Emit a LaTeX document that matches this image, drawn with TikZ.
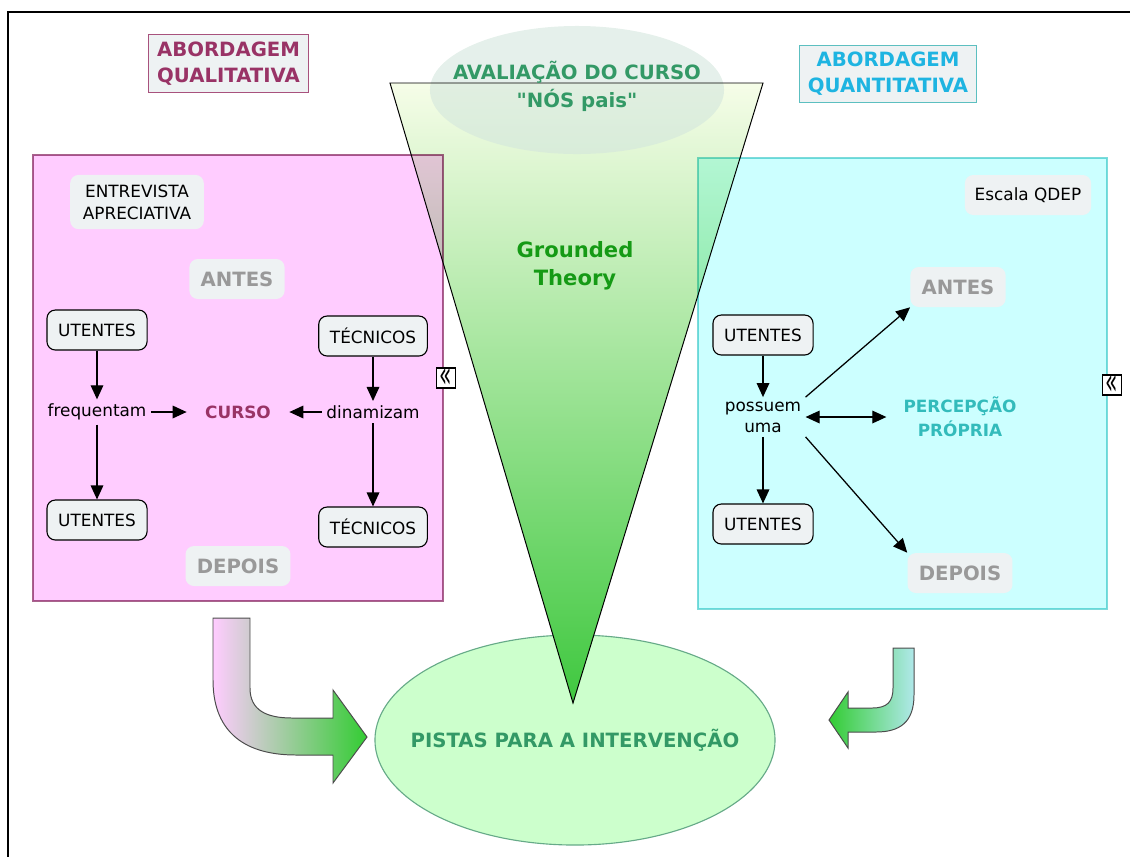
\documentclass[tikz,border=0pt]{standalone}
\usepackage{fontspec}
\setmainfont{DejaVu Sans}[Ligatures=TeXOff]
\usetikzlibrary{arrows.meta,shapes.geometric}

\definecolor{pinkfill}{HTML}{FFCCFF}
\definecolor{pinkline}{HTML}{A8648C}
\definecolor{cyanfill}{HTML}{CCFFFF}
\definecolor{cyanline}{HTML}{7FDADA}
\definecolor{qualtext}{HTML}{993366}
\definecolor{quanttext}{HTML}{1EB4E1}
\definecolor{quantline}{HTML}{5CBFC0}
\definecolor{boxfill}{HTML}{EEF2F3}
\definecolor{graytext}{HTML}{999999}
\definecolor{evaltext}{HTML}{339966}
\definecolor{theorytext}{HTML}{159A15}
\definecolor{percetext}{HTML}{33BBBB}
\definecolor{ovalfill}{HTML}{CCFFCC}
\definecolor{ovalline}{HTML}{66AA88}
\definecolor{topfill}{HTML}{D3E6DD}
\definecolor{funneltop}{HTML}{F6FDE8}
\definecolor{funnelbot}{HTML}{3FC83F}
\definecolor{arrowgreen}{HTML}{33CC33}
\definecolor{arrowcyan}{HTML}{B0E8EA}

\tikzset{
  concept/.style={draw=black, line width=0.8pt, fill=boxfill, rounded corners=6pt,
    inner xsep=8pt, minimum height=1cm, font=\fontsize{12}{14}\selectfont},
  phase/.style={fill=boxfill, rounded corners=6pt, inner xsep=8pt, minimum height=1cm,
    text=graytext, font=\fontsize{14}{17}\selectfont\bfseries},
  linkword/.style={inner sep=3pt, align=center, font=\fontsize{12}{15}\selectfont},
  heading/.style={fill=boxfill, line width=0.8pt, inner xsep=6pt, inner ysep=5pt,
    align=center, font=\fontsize{14}{18.5}\selectfont\bfseries},
  note/.style={fill=boxfill, rounded corners=6pt, inner xsep=9pt, inner ysep=7pt,
    align=center, font=\fontsize{12}{15.5}\selectfont},
  link/.style={-{Triangle[width=9pt,length=10pt]}, line width=0.9pt},
  twoway/.style={{Triangle[width=9pt,length=10pt]}-{Triangle[width=9pt,length=10pt]}, line width=0.9pt},
  collapse/.style={draw, line width=0.8pt, fill=white, minimum width=0.47cm,
    minimum height=0.5cm, inner sep=0pt, font=\fontsize{12}{12}\selectfont},
  bigarrow/.style={draw=black!70, line width=0.7pt}
}

\begin{document}
\begin{tikzpicture}[x=0.025cm, y=-0.025cm]
  \useasboundingbox (0,0) rectangle (1130,857);

  % Frame
  \draw[line width=1.3pt] (1130,12) -- (8,12) -- (8,857);

  % Result oval
  \node[ellipse, draw=ovalline, line width=0.8pt, fill=ovalfill, inner sep=0pt,
    minimum width=10cm, minimum height=5.25cm,
    label={[text=evaltext, font=\fontsize{14}{17}\selectfont\bfseries]center:PISTAS PARA A INTERVENÇÃO}]
    (pistas) at (575,740) {};

  % Funnel
  \coordinate (ftl) at (390,83);
  \coordinate (ftr) at (763,83);
  \coordinate (fbot) at (573,703);
  \shade[top color=funneltop, bottom color=funnelbot] (ftl) -- (ftr) -- (fbot) -- cycle;

  \node[ellipse, fill=topfill, fill opacity=0.6, inner sep=0pt,
    minimum width=7.35cm, minimum height=3.2cm] (avaliacao) at (577,90) {};

  \draw[line width=0.7pt] (ftl) -- (ftr) -- (fbot) -- cycle;

  \node[text=evaltext, align=center, font=\fontsize{14}{20}\selectfont\bfseries]
    (avaliacaotxt) at (577,86) {AVALIAÇÃO DO CURSO\\"NÓS pais"};

  \node[text=theorytext, align=center, font=\fontsize{15}{20}\selectfont\bfseries]
    (theory) at (575,266) {Grounded\\Theory};

  % Panels
  \begin{scope}[blend mode=multiply]
    \path[fill=pinkfill, draw=pinkline, line width=0.8pt] (33,155) rectangle (443,601);
    \path[fill=cyanfill, draw=cyanline, line width=0.8pt] (698,158) rectangle (1107,609);
  \end{scope}

  % Titles
  \node[heading, draw=qualtext!85, text=qualtext] (qualitativa) at (228.5,63.5)
    {ABORDAGEM\\QUALITATIVA};
  \node[heading, draw=quantline, text=quanttext] (quantitativa) at (888,74)
    {ABORDAGEM\\QUANTITATIVA};

  % Qualitative side
  \node[note] (entrevista) at (137,202) {ENTREVISTA\\APRECIATIVA};
  \node[phase] (antesL) at (237,279) {ANTES};
  \node[concept] (utentesA) at (97,330) {UTENTES};
  \node[concept] (tecnicosA) at (373,336) {TÉCNICOS};
  \node[linkword] (frequentam) at (97,412) {frequentam};
  \node[linkword, inner xsep=13pt, text=qualtext, font=\fontsize{12}{14}\selectfont\bfseries]
    (curso) at (238,412) {CURSO};
  \node[linkword] (dinamizam) at (373,412) {dinamizam};
  \node[concept] (utentesB) at (97,520) {UTENTES};
  \node[concept] (tecnicosB) at (373,527) {TÉCNICOS};
  \node[phase] (depoisL) at (238,566) {DEPOIS};
  \node[collapse] (iconL) at (446,378) {\scalebox{1.2}[2.2]{«}};

  \draw[link] (utentesA) -- (frequentam);
  \draw[link] (frequentam) -- (utentesB);
  \draw[link] (frequentam) -- (curso);
  \draw[link] (tecnicosA) -- (dinamizam);
  \draw[link] (dinamizam) -- (tecnicosB);
  \draw[link] (dinamizam) -- (curso);

  % Quantitative side
  \node[note, inner xsep=7pt, minimum height=1cm] (escala) at (1028,195) {Escala QDEP};
  \node[phase] (antesR) at (958,287) {ANTES};
  \node[concept] (utentesC) at (763,335) {UTENTES};
  \node[linkword] (possuem) at (763,417) {possuem\\uma};
  \node[linkword, inner xsep=12pt, text=percetext, font=\fontsize{12}{17}\selectfont\bfseries]
    (percepcao) at (960,417) {PERCEPÇÃO\\PRÓPRIA};
  \node[concept] (utentesD) at (763,524) {UTENTES};
  \node[phase] (depoisR) at (960,573) {DEPOIS};
  \node[collapse] (iconR) at (1112,385) {\scalebox{1.2}[2.2]{«}};

  \draw[link] (utentesC) -- (possuem);
  \draw[link] (possuem) -- (utentesD);
  \draw[link] (possuem.north east) -- (antesR.south west);
  \draw[link] (possuem.south east) -- (depoisR.north west);
  \draw[twoway] (possuem) -- (percepcao);

  % Bent arrows
  \shadedraw[bigarrow, left color=pinkfill, right color=arrowgreen]
    (213,618) -- (250,618) -- (250,688) .. controls (250,710) and (266,718) .. (292,718)
    -- (333,718) -- (333,690) -- (367,737) -- (333,783) -- (333,755) -- (296,755)
    .. controls (240,755) and (213,728) .. (213,680) -- cycle;
  \shadedraw[bigarrow, left color=arrowgreen, right color=arrowcyan]
    (893,648) -- (914,648) -- (914,695) .. controls (914,722) and (900,732) .. (876,732)
    -- (848,732) -- (848,748) -- (829,720) -- (848,692) -- (848,708) -- (872,708)
    .. controls (887,708) and (893,702) .. (893,688) -- cycle;
\end{tikzpicture}
\end{document}
